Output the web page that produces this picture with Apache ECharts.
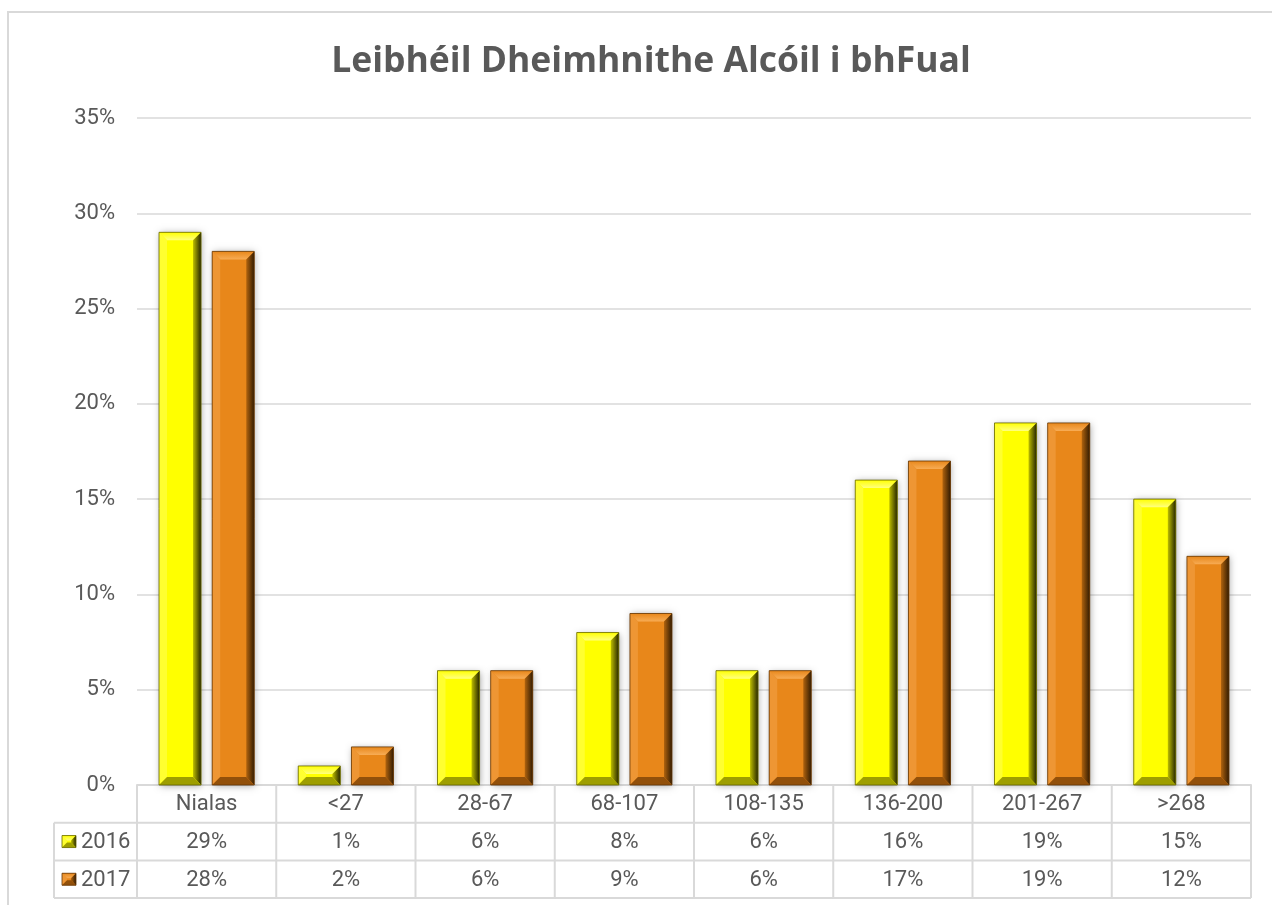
<!DOCTYPE html>
<html>
<head>
<meta charset="utf-8">
<script src="https://cdn.jsdelivr.net/npm/echarts@6/dist/echarts.min.js"></script>
<style>
    html, body { margin: 0; padding: 0; background: #fff; }
    #chart { width: 1272px; height: 905px; }
</style>
</head>
<body>
<div id="chart"></div>
<script>
// data (percent)
var categories = ['Nialas', '<27', '28-67', '68-107', '108-135', '136-200', '201-267', '>268'];
var years = ['2016', '2017'];
var values2016 = [29, 1, 6, 8, 6, 16, 19, 15];
var values2017 = [28, 2, 6, 9, 6, 17, 19, 12];
var yMin = 0, yMax = 35, yStep = 5;

var textColor = '#595959';
var lineColor = '#D9D9D9';
var fontFamily = 'Roboto, "Noto Sans", sans-serif';

// bevel colours for each year
var bevel = [
    { base: '#FFFF00', top: '#FFFF80', left: '#FFFF30', bottom: '#9E9E00', rightIn: '#BDBD00', rightOut: '#262600', edge: '#666600' },
    { base: '#E8871A', top: '#F7AC55', left: '#EE9634', bottom: '#92500A', rightIn: '#B0630E', rightOut: '#331C02', edge: '#633605' }
];

function bevelShapes(x0, x1, yT, yB, c, b, withShadow) {
    var kids = [];
    kids.push({
        type: 'rect',
        shape: { x: x0, y: yT, width: x1 - x0, height: yB - yT },
        style: withShadow ? { fill: c.base, shadowBlur: 7, shadowColor: 'rgba(0,0,0,0.35)', shadowOffsetX: 1, shadowOffsetY: 1 } : { fill: c.base }
    });
    kids.push({   // top
        type: 'polygon',
        shape: { points: [[x0, yT], [x1, yT], [x1 - b, yT + b], [x0 + b, yT + b]] },
        style: { fill: new echarts.graphic.LinearGradient(0, 0, 0, 1, [{ offset: 0, color: c.base }, { offset: 1, color: c.top }]) }
    });
    kids.push({   // left
        type: 'polygon',
        shape: { points: [[x0, yT], [x0 + b, yT + b], [x0 + b, yB - b], [x0, yB]] },
        style: { fill: c.left }
    });
    kids.push({   // right
        type: 'polygon',
        shape: { points: [[x1, yT], [x1, yB], [x1 - b, yB - b], [x1 - b, yT + b]] },
        style: { fill: new echarts.graphic.LinearGradient(0, 0, 1, 0, [{ offset: 0, color: c.rightIn }, { offset: 1, color: c.rightOut }]) }
    });
    kids.push({   // bottom
        type: 'polygon',
        shape: { points: [[x0, yB], [x1, yB], [x1 - b, yB - b], [x0 + b, yB - b]] },
        style: { fill: c.bottom }
    });
    kids.push({
        type: 'rect',
        shape: { x: x0, y: yT, width: x1 - x0, height: yB - yT },
        style: { fill: 'none', stroke: c.edge, lineWidth: 0.8 }
    });
    return kids;
}

function renderBar(params, api) {
    var idx = api.value(0);
    var val = api.value(1);
    var top = api.coord([idx, val]);
    var base = api.coord([idx, 0]);
    var band = api.size([1, 0])[0];
    var bw = band * 0.302;
    var gap = band * 0.08;
    var off = (params.seriesIndex === 0 ? -1 : 1) * (gap / 2 + bw / 2);
    var x0 = top[0] + off - bw / 2;
    var x1 = x0 + bw;
    var h = base[1] - top[1];
    var b = Math.min(8, h / 2.4);
    return {
        type: 'group',
        children: bevelShapes(x0, x1, top[1], base[1], bevel[params.seriesIndex], b, true)
    };
}

function toPairs(arr) {
    return arr.map(function (v, i) { return [i, v]; });
}

var chart = echarts.init(document.getElementById('chart'));

var option = {
    backgroundColor: '#fff',
    animation: false,
    title: {
        text: 'Leibhéil Dheimhnithe Alcóil i bhFual',
        left: 646,
        textAlign: 'center',
        top: 39,
        textStyle: { color: textColor, fontSize: 35.5, fontWeight: 'bold', fontFamily: '"Open Sans", Roboto, sans-serif' }
    },
    grid: { left: 137, right: 21, top: 118, bottom: 120 },
    xAxis: {
        type: 'category',
        data: categories,
        axisLine: { show: true, lineStyle: { color: lineColor, width: 2 } },
        axisTick: { show: false },
        axisLabel: { show: false }
    },
    yAxis: {
        type: 'value',
        min: yMin,
        max: yMax,
        interval: yStep,
        axisLine: { show: false },
        axisTick: { show: false },
        axisLabel: {
            formatter: '{value}%',
            color: textColor,
            fontSize: 22,
            fontFamily: fontFamily,
            margin: 22
        },
        splitLine: { lineStyle: { color: lineColor, width: 1.5 } }
    },
    series: [
        { name: years[0], type: 'custom', renderItem: renderBar, encode: { x: 0, y: 1 }, data: toPairs(values2016), z: 3 },
        { name: years[1], type: 'custom', renderItem: renderBar, encode: { x: 0, y: 1 }, data: toPairs(values2017), z: 3 }
    ]
};

chart.setOption(option);

// data table under the plot, placed from the axis scale
function buildTable() {
    var c0 = chart.convertToPixel({ xAxisIndex: 0 }, 0);
    var c1 = chart.convertToPixel({ xAxisIndex: 0 }, 1);
    var band = c1 - c0;
    var left = c0 - band / 2;
    var right = left + band * categories.length;
    var y0 = chart.convertToPixel({ yAxisIndex: 0 }, 0);
    var rowH = 37.7;
    var labelLeft = 54;
    var rows = [values2016, values2017];
    var els = [];

    // outer frame of the chart area
    els.push({
        type: 'rect', z: 0,
        shape: { x: 8, y: 12, width: 1400, height: 1000 },
        style: { fill: 'none', stroke: lineColor, lineWidth: 2 }
    });

    var lineStyle = { stroke: lineColor, lineWidth: 2 };
    // horizontal lines
    for (var r = 1; r <= 3; r++) {
        els.push({ type: 'line', shape: { x1: labelLeft, y1: y0 + rowH * r, x2: right, y2: y0 + rowH * r }, style: lineStyle });
    }
    // vertical lines
    for (var i = 0; i <= categories.length; i++) {
        var x = left + band * i;
        els.push({ type: 'line', shape: { x1: x, y1: y0, x2: x, y2: y0 + rowH * 3 }, style: lineStyle });
    }
    els.push({ type: 'line', shape: { x1: labelLeft, y1: y0 + rowH, x2: labelLeft, y2: y0 + rowH * 3 }, style: lineStyle });

    var txt = function (x, y, s, align) {
        return {
            type: 'text', x: x, y: y,
            style: { text: s, fill: textColor, fontSize: 22, fontFamily: fontFamily, align: align || 'center', verticalAlign: 'middle' }
        };
    };

    categories.forEach(function (name, i) {
        var cx = left + band * (i + 0.5);
        els.push(txt(cx, y0 + rowH * 0.5 + 1, name));
        rows.forEach(function (vals, r) {
            els.push(txt(cx, y0 + rowH * (r + 1.5) + 1, vals[i] + '%'));
        });
    });

    years.forEach(function (yr, r) {
        var cy = y0 + rowH * (r + 1.5);
        els.push({
            type: 'group',
            children: bevelShapes(62, 76, cy - 6, cy + 6, bevel[r], 5, false)
        });
        els.push(txt(81, cy + 1, yr, 'left'));
    });

    chart.setOption({ graphic: { elements: els } });
}

buildTable();
</script>
</body>
</html>
